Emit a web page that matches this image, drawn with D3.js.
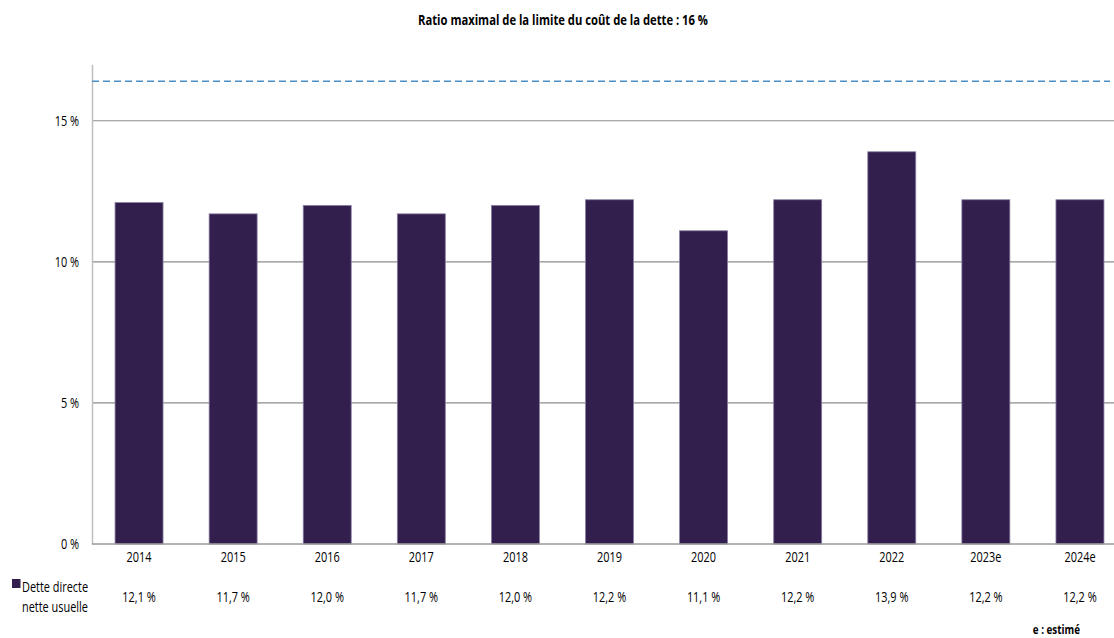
<!DOCTYPE html>
<html>
<head>
<meta charset="utf-8">
<script src="https://cdn.jsdelivr.net/npm/d3@7"></script>
<style>
  html, body { margin: 0; padding: 0; background: #fff; }
  svg { display: block; }
  text { font-family: "Open Sans", sans-serif; fill: #000; }
</style>
</head>
<body>
<script>
const title = "Ratio maximal de la limite du coût de la dette : 16 %";
const categories = ["2014", "2015", "2016", "2017", "2018", "2019", "2020", "2021", "2022", "2023e", "2024e"];
const values = [12.1, 11.7, 12.0, 11.7, 12.0, 12.2, 11.1, 12.2, 13.9, 12.2, 12.2];
const valueLabels = ["12,1 %", "11,7 %", "12,0 %", "11,7 %", "12,0 %", "12,2 %", "11,1 %", "12,2 %", "13,9 %", "12,2 %", "12,2 %"];
const yTicks = [0, 5, 10, 15];
const limitLine = 16.4;
const seriesName = ["Dette directe", "nette usuelle"];
const footnote = "e : estimé";

const W = 1114, H = 638;
const svg = d3.select("body").append("svg").attr("width", W).attr("height", H);

const x = d3.scaleBand().domain(categories).range([92, 1127]).paddingInner(0.49).paddingOuter(0.245);
const y = d3.scaleLinear().domain([0, 17]).range([544, 64.3]);

// horizontally condense text (reference uses a narrow font)
function squish(sel, f) {
  sel.each(function () {
    const w = this.getComputedTextLength();
    d3.select(this).attr("textLength", w * f).attr("lengthAdjust", "spacingAndGlyphs");
  });
}
const F = 0.78;
const FS = 14;

// title
svg.append("text").attr("x", 563).attr("y", 25).attr("text-anchor", "middle")
  .attr("font-size", 13.5).attr("font-weight", "bold").text(title)
  .attr("textLength", 290).attr("lengthAdjust", "spacingAndGlyphs");

// gridlines
svg.append("g").selectAll("line").data(yTicks.filter(d => d > 0)).join("line")
  .attr("x1", 92).attr("x2", W).attr("y1", d => y(d)).attr("y2", d => y(d))
  .attr("stroke", "#8c8c8c").attr("stroke-width", 1.2);

// y axis
const yAxis = d3.axisLeft(y).tickValues(yTicks).tickSize(0).tickPadding(13)
  .tickFormat(d => d + " %");
const gy = svg.append("g").attr("transform", "translate(92,0)").call(yAxis);
gy.select(".domain").attr("stroke", "#bfbfbf").attr("stroke-width", 1.5);
gy.selectAll("text").attr("font-size", FS).attr("font-family", "Open Sans, sans-serif").attr("dy", "0.35em").call(squish, F);

// limit line
svg.append("line").attr("x1", 92).attr("x2", 1110).attr("y1", y(limitLine)).attr("y2", y(limitLine))
  .attr("stroke", "#4a90c8").attr("stroke-width", 1.4).attr("stroke-dasharray", "7,4");

// bars
svg.append("g").selectAll("rect").data(values).join("rect")
  .attr("x", (d, i) => x(categories[i]))
  .attr("width", x.bandwidth())
  .attr("y", d => y(d))
  .attr("height", d => y(0) - y(d))
  .attr("fill", "#331f4d")
  .attr("stroke", "#8a7fa2").attr("stroke-width", 0.8);

// x axis line
svg.append("line").attr("x1", 92).attr("x2", W).attr("y1", y(0)).attr("y2", y(0))
  .attr("stroke", "#9a9a9a").attr("stroke-width", 1.5);

// x labels
const xAxis = d3.axisBottom(x).tickSize(0).tickPadding(8);
const gx = svg.append("g").attr("transform", `translate(0,${y(0)})`).call(xAxis);
gx.select(".domain").remove();
gx.selectAll("text").attr("font-size", FS).attr("font-family", "Open Sans, sans-serif").call(squish, F);

// value row
svg.append("g").selectAll("text").data(valueLabels).join("text")
  .attr("x", (d, i) => x(categories[i]) + x.bandwidth() / 2)
  .attr("y", 601.5).attr("text-anchor", "middle").attr("font-size", FS).text(d => d).call(squish, F);

// legend
svg.append("rect").attr("x", 12).attr("y", 579).attr("width", 8.5).attr("height", 9).attr("fill", "#331f4d");
svg.append("g").selectAll("text").data(seriesName).join("text")
  .attr("x", 22).attr("y", (d, i) => 591.5 + i * 20.5).attr("font-size", FS).text(d => d).call(squish, F);

// footnote
svg.append("text").attr("x", 1080).attr("y", 634).attr("text-anchor", "end")
  .attr("font-size", 12).attr("font-weight", "bold").text(footnote).call(squish, 0.82);
</script>
</body>
</html>
